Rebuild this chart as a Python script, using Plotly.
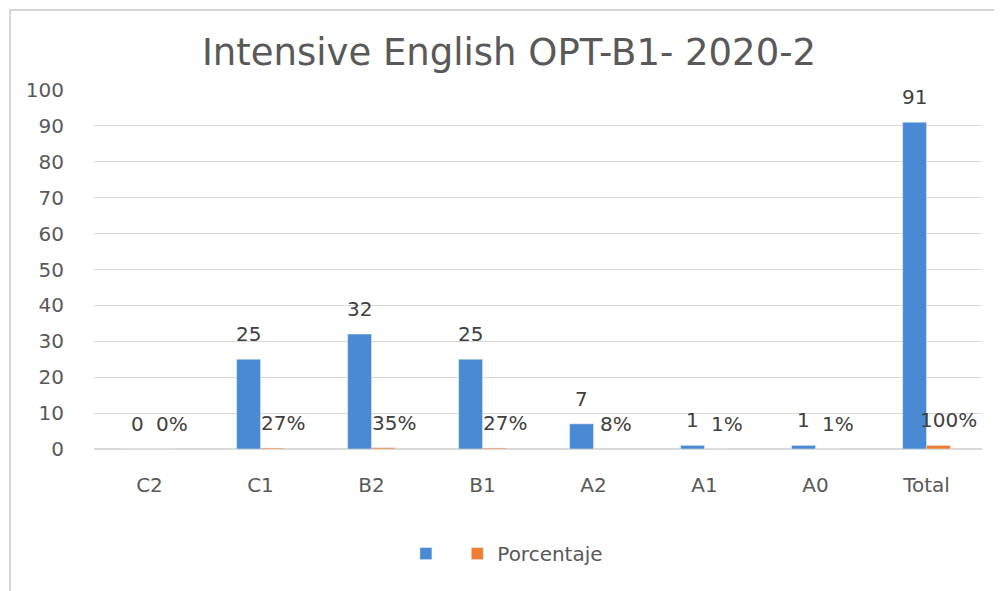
import plotly.graph_objects as go

categories = ["C2", "C1", "B2", "B1", "A2", "A1", "A0", "Total"]
counts = [0, 25, 32, 25, 7, 1, 1, 91]
percent = [0.0, 0.27, 0.35, 0.27, 0.08, 0.01, 0.01, 1.00]
percent_labels = ["0%", "27%", "35%", "27%", "8%", "1%", "1%", "100%"]
y_ticks = [0, 10, 20, 30, 40, 50, 60, 70, 80, 90, 100]

BLUE = "#4A8AD4"
ORANGE = "#ED7D31"
TEXT = "#595959"
FONT = "DejaVu Sans"

fig = go.Figure()
fig.add_trace(go.Bar(x=categories, y=counts, name=" ", marker_color=BLUE,
                     showlegend=True))
fig.add_trace(go.Bar(x=categories, y=percent, name="Porcentaje",
                     marker_color=ORANGE))

annotations = []
for c, v in zip(categories, counts):
    annotations.append(dict(x=c, y=v, text=str(v), showarrow=False,
                            xshift=-12, yshift=25, xref="x", yref="y",
                            font=dict(family=FONT, size=20, color="#404040")))
for c, v, t in zip(categories, percent, percent_labels):
    annotations.append(dict(x=c, y=v, text=t, showarrow=False,
                            xshift=22, yshift=25, xref="x", yref="y",
                            font=dict(family=FONT, size=20, color="#404040")))

fig.update_layout(
    width=1002, height=591,
    margin=dict(l=86, r=28, t=82, b=150),
    paper_bgcolor="white", plot_bgcolor="white",
    title=dict(text="Intensive English OPT-B1- 2020-2", x=0.5, xanchor="center",
               y=0.9255, yanchor="middle",
               font=dict(family=FONT, size=37, color=TEXT)),
    barmode="group", bargap=0.57, bargroupgap=0,
    font=dict(family=FONT, size=20, color=TEXT),
    xaxis=dict(showgrid=False, showline=False, ticks="", tickfont=dict(size=20, color=TEXT),
               ticklabelstandoff=22),
    yaxis=dict(range=[0, 100], tickvals=y_ticks, showgrid=True, gridcolor="#D9D9D9",
               gridwidth=1, zeroline=True, zerolinecolor="#D9D9D9", showline=False,
               ticks="", tickfont=dict(size=20, color=TEXT), ticklabelstandoff=29),
    legend=dict(orientation="h", x=0.465, xanchor="center", y=-0.237, yanchor="top",
                font=dict(size=20, color=TEXT), itemwidth=30),
    annotations=annotations,
    shapes=[dict(type="rect", xref="paper", yref="paper",
                 x0=-0.0946, x1=1.02, y0=-0.6, y1=1.223,
                 line=dict(color="#D6D6D6", width=2))],
)

fig.write_html("out.html")
